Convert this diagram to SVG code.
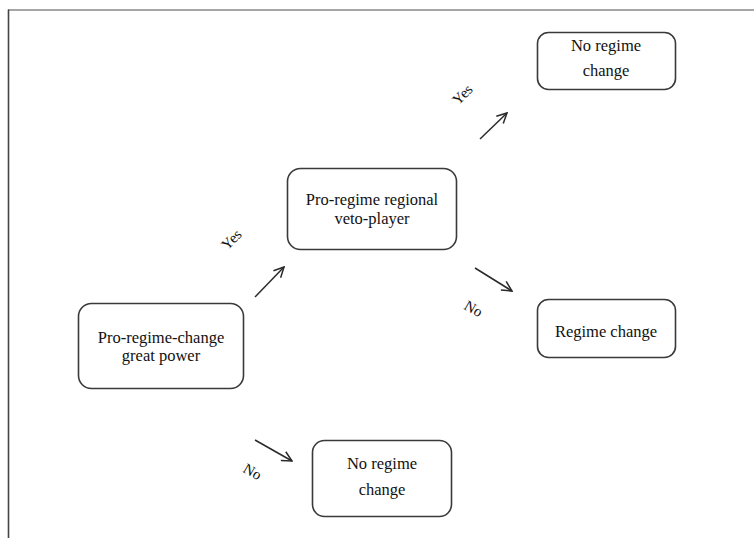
<svg xmlns="http://www.w3.org/2000/svg" width="754" height="538" viewBox="0 0 754 538">
<defs>
<style>
.box{fill:#fff;stroke:#3a3a3a;stroke-width:1.6}
.t{font-family:"Liberation Serif","Times New Roman",serif;font-size:16.5px;fill:#111;text-anchor:middle}
.lbl{font-family:"Liberation Serif","Times New Roman",serif;font-size:15px;fill:#111;text-anchor:middle}
.arr{stroke:#2a2a2a;stroke-width:1.5;fill:none}
</style>
<marker id="ah" viewBox="0 0 12 12" refX="11" refY="6" markerWidth="12" markerHeight="12" markerUnits="userSpaceOnUse" orient="auto">
<path d="M1,1 L11,6 L1,11" fill="none" stroke="#2a2a2a" stroke-width="1.5"/>
</marker>
</defs>
<rect width="754" height="538" fill="#fff"/>
<g id="frame">
<line x1="8" y1="10" x2="754" y2="10" stroke="#888" stroke-width="1.6"/>
<line x1="8.5" y1="9.5" x2="8.5" y2="538" stroke="#444" stroke-width="1.6"/>
</g>
<g id="connectors">
<line class="arr" x1="255" y1="297" x2="284" y2="267" marker-end="url(#ah)"/>
<line class="arr" x1="480" y1="139" x2="507" y2="113" marker-end="url(#ah)"/>
<line class="arr" x1="475" y1="268" x2="512" y2="291" marker-end="url(#ah)"/>
<line class="arr" x1="255" y1="440" x2="292" y2="461" marker-end="url(#ah)"/>
<text class="lbl" transform="translate(235,243) rotate(-45)">Yes</text>
<text class="lbl" transform="translate(466,98) rotate(-45)">Yes</text>
<text class="lbl" transform="translate(471,313) rotate(30)">No</text>
<text class="lbl" transform="translate(250,476) rotate(30)">No</text>
</g>
<g id="greatpower">
<rect class="box" x="78.5" y="303.5" width="165" height="85" rx="13"/>
<text class="t" x="161" y="343">Pro-regime-change</text>
<text class="t" x="161" y="361">great power</text>
</g>
<g id="vetoplayer">
<rect class="box" x="287.5" y="168.5" width="169" height="81" rx="13"/>
<text class="t" x="372" y="205">Pro-regime regional</text>
<text class="t" x="372" y="224">veto-player</text>
</g>
<g id="noregime1">
<rect class="box" x="537.5" y="32.5" width="138" height="57" rx="11"/>
<text class="t" x="606" y="51">No regime</text>
<text class="t" x="606" y="76">change</text>
</g>
<g id="regimechange">
<rect class="box" x="537.5" y="299.5" width="138" height="58" rx="11"/>
<text class="t" x="606" y="337">Regime change</text>
</g>
<g id="noregime2">
<rect class="box" x="312.5" y="440.5" width="139" height="76" rx="12"/>
<text class="t" x="382" y="469">No regime</text>
<text class="t" x="382" y="495">change</text>
</g>
</svg>
